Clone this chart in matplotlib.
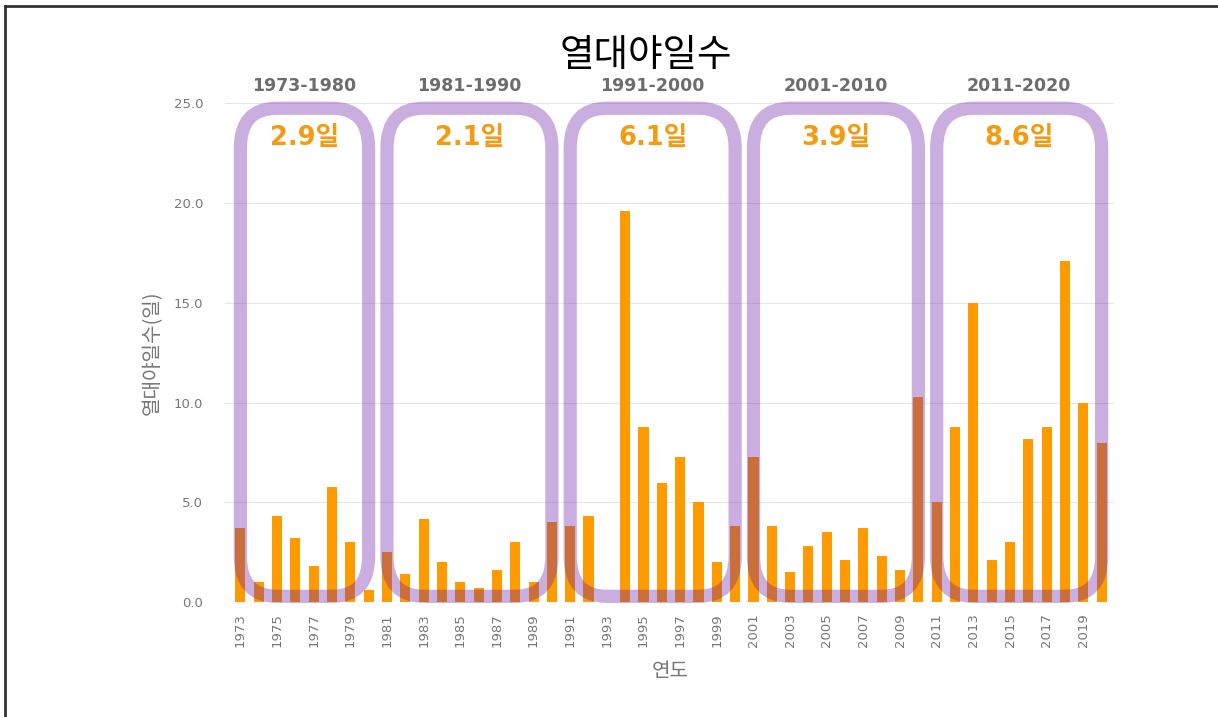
import matplotlib
matplotlib.use("Agg")
import matplotlib.pyplot as plt
from matplotlib.patches import FancyBboxPatch
from matplotlib.lines import Line2D

plt.rcParams['font.family'] = ['DejaVu Sans', 'Noto Sans CJK KR']
KR = ['Noto Sans CJK KR', 'DejaVu Sans']
MIX = ['DejaVu Sans', 'Noto Sans CJK KR']

years = list(range(1973, 2021))
values = [3.7, 1.0, 4.3, 3.2, 1.8, 5.8, 3.0, 0.6,
          2.5, 1.4, 4.15, 2.0, 1.0, 0.7, 1.6, 3.0, 1.0, 4.0,
          3.8, 4.3, 0.0, 19.6, 8.8, 6.0, 7.3, 5.0, 2.0, 3.8,
          7.3, 3.8, 1.5, 2.8, 3.5, 2.1, 3.7, 2.3, 1.6, 10.3,
          5.0, 8.8, 15.0, 2.1, 3.0, 8.2, 8.8, 17.1, 10.0, 8.0]
periods = ["1973-1980", "1981-1990", "1991-2000", "2001-2010", "2011-2020"]
period_start = [1973, 1981, 1991, 2001, 2011]
period_end = [1980, 1990, 2000, 2010, 2020]
period_avg = ["2.9일", "2.1일", "6.1일", "3.9일", "8.6일"]
yticks = [0, 5, 10, 15, 20, 25]
ytick_labels = ["0.0", "5.0", "10.0", "15.0", "20.0", "25.0"]
xtick_years = [y for y in years if y % 2 == 1]

fig = plt.figure(figsize=(12.18, 7.17), dpi=100)
ax = fig.add_axes([0.185, 0.160, 0.730, 0.696])

ax.bar(years, values, width=0.55, color="#FF9A00", zorder=2)
ax.set_xlim(1972.18, 2020.7)
ax.set_ylim(0, 25)
ax.set_yticks(yticks)
ax.set_yticklabels(ytick_labels, color="#777777", fontsize=9.5)
ax.set_xticks(xtick_years)
ax.set_xticklabels([str(y) for y in xtick_years], rotation=90, color="#777777", fontsize=9.5)
ax.tick_params(axis='y', length=0, pad=16)
ax.tick_params(axis='x', length=0, pad=8)
ax.grid(axis='y', color="#E6E6E6", linewidth=0.8, zorder=0)
ax.set_axisbelow(True)
for s in ax.spines.values():
    s.set_visible(False)

ax.set_xlabel("연도", color="#777777", fontsize=14.5, labelpad=10, family=KR)
ax.set_ylabel("열대야일수(일)", color="#777777", fontsize=14.5, labelpad=8, family=KR)

for p, s, e, a in zip(periods, period_start, period_end, period_avg):
    box = FancyBboxPatch((s, 0.3), e - s, 24.45,
                         boxstyle="round,pad=0,rounding_size=2.0",
                         fill=False, edgecolor=(110/255, 32/255, 168/255, 0.36),
                         linewidth=9.5, clip_on=False, zorder=3)
    ax.add_patch(box)
    cx = (s + e) / 2
    ax.text(cx, 25.85, p, ha='center', va='center', fontsize=12.5,
            fontweight='bold', color="#6D6D6D", clip_on=False, family=MIX)
    ax.text(cx, 23.25, a, ha='center', va='center', fontsize=18.5,
            fontweight='bold', color="#F39C12", zorder=4, family=MIX)

fig.text(0.530, 0.923, "열대야일수", ha='center', va='center', fontsize=27, color="black", family=KR)

fig.add_artist(Line2D([0.0045, 0.0045], [0, 0.991], color="#333333", linewidth=2, transform=fig.transFigure))
fig.add_artist(Line2D([0.0045, 1.0], [0.991, 0.991], color="#333333", linewidth=2, transform=fig.transFigure))

fig.savefig("out.png", dpi=100)
